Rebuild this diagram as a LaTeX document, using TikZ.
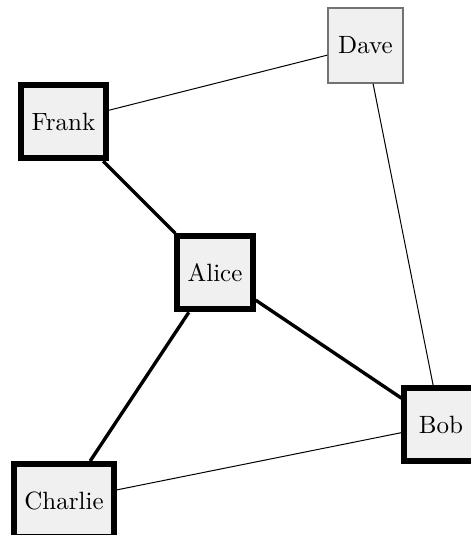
\documentclass[tikz,border=0pt]{standalone}
\begin{document}
\begin{tikzpicture}[x=0.4pt,y=-0.4pt,
  person/.style={draw=black,line width=2.4pt,fill=black!6,minimum size=29.2pt,inner sep=4.1pt},
  faint/.style={draw=black!55,line width=0.8pt,fill=black!6,minimum size=29.8pt,inner sep=4pt},
  strong/.style={line width=1.35pt},
  weak/.style={line width=0.4pt}]
\useasboundingbox (0,0) rectangle (471,535);
\begin{scope}
\clip (0,0) rectangle (471,535);
% people
\node[faint]  (dave)    at (365.5,45.5) {Dave};
\node[person] (frank)   at (63.5,121.7) {Frank};
\node[person] (alice)   at (215,272.8)  {Alice};
\node[person] (bob)     at (441,424.7)  {Bob};
\node[person] (charlie) at (64,500.5)   {Charlie};
% ties
\draw[weak]   (frank) -- (dave);
\draw[strong] (frank) -- (alice);
\draw[strong] (alice) -- (charlie);
\draw[strong] (alice) -- (bob);
\draw[weak]   (dave) -- (bob);
\draw[weak]   (charlie) -- (bob);
\end{scope}
\end{tikzpicture}
\end{document}
